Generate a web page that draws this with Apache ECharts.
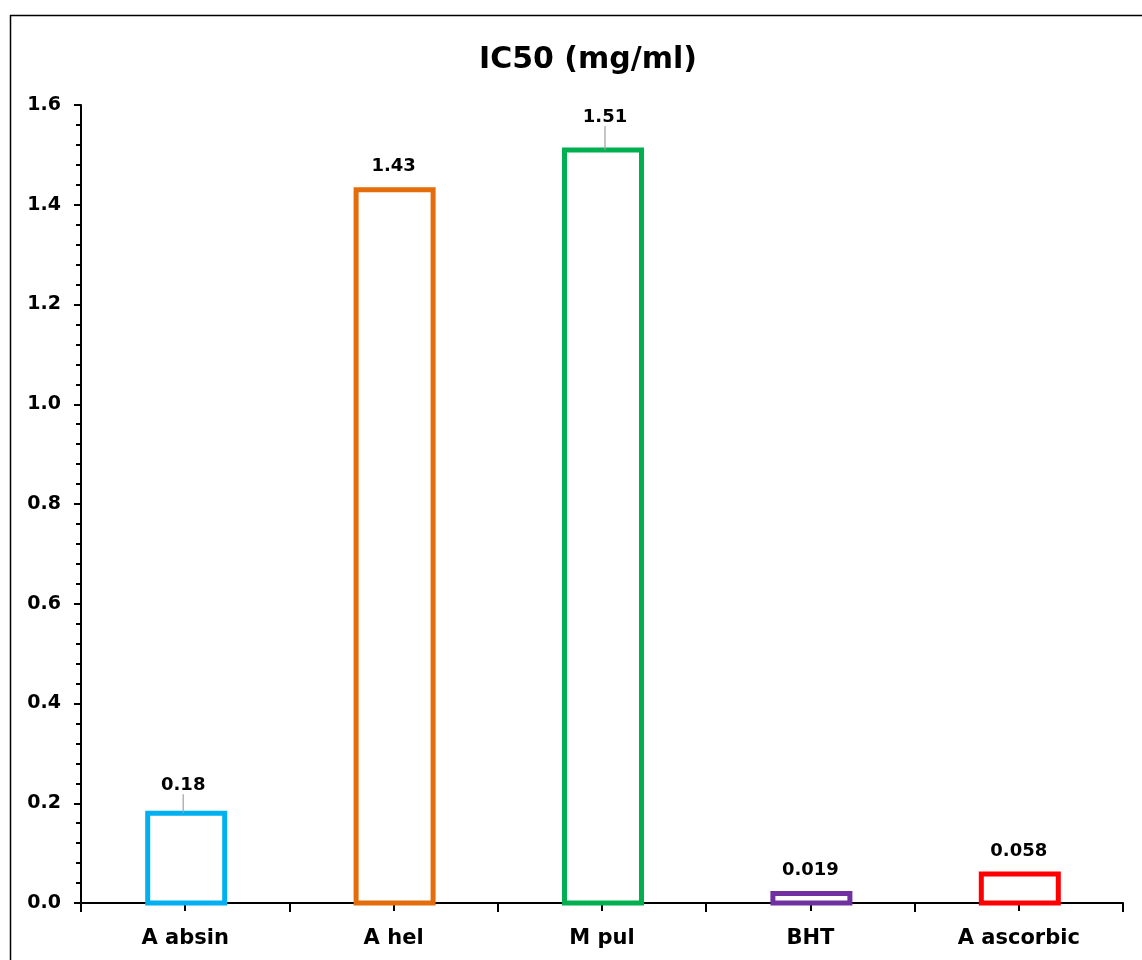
<!DOCTYPE html>
<html>
<head>
<meta charset="utf-8">
<script src="https://cdn.jsdelivr.net/npm/echarts@6/dist/echarts.min.js"></script>
<style>html,body{margin:0;padding:0;background:#fff}#c{width:1142px;height:960px}</style>
</head>
<body>
<div id="c"></div>
<script>
var categories = ['A absin', 'A hel', 'M pul', 'BHT', 'A ascorbic'];
var values = [0.18, 1.43, 1.51, 0.019, 0.058];
var labels = ['0.18', '1.43', '1.51', '0.019', '0.058'];
var colors = ['#00B0F0', '#E46C0A', '#00B050', '#7030A0', '#FF0000'];
var yTicks = [0, 0.2, 0.4, 0.6, 0.8, 1.0, 1.2, 1.4, 1.6];
var leaderLines = [true, false, true, false, false];

var FONT = 'DejaVu Sans';
var BAR_W = 77;
var chart = echarts.init(document.getElementById('c'), null, {renderer: 'canvas'});
var option = {
  backgroundColor: '#fff',
  animation: false,
  graphic: [{
    type: 'rect', shape: {x: 10.5, y: 15.5, width: 1200, height: 1000},
    style: {fill: 'none', stroke: '#000', lineWidth: 1.5}, z: -10, silent: true
  }],
  title: {
    text: 'IC50 (mg/ml)', left: 474, top: 40,
    textStyle: {fontFamily: FONT, fontWeight: 'bold', fontSize: 30, color: '#000'}
  },
  grid: {left: 81, right: 19, top: 105, bottom: 57, containLabel: false},
  xAxis: [{
    type: 'category', data: categories,
    axisLine: {lineStyle: {color: '#000', width: 2}},
    axisTick: {show: true, length: 9, interval: 0, alignWithLabel: false, lineStyle: {color: '#000', width: 2}},
    axisLabel: {fontFamily: FONT, fontWeight: 'bold', fontSize: 21, color: '#000', margin: 25, interval: 0}
  }, {
    type: 'category', data: categories, position: 'bottom',
    axisLine: {show: false},
    axisTick: {show: true, length: 8, interval: 0, alignWithLabel: true, lineStyle: {color: '#000', width: 2}},
    axisLabel: {show: false}
  }],
  yAxis: {
    type: 'value', min: 0, max: 1.6, interval: 0.2,
    axisLine: {show: true, lineStyle: {color: '#000', width: 2}},
    axisTick: {show: true, length: 7, lineStyle: {color: '#000', width: 2}},
    minorTick: {show: true, splitNumber: 5, length: 5, lineStyle: {color: '#000', width: 2}},
    splitLine: {show: false},
    axisLabel: {
      fontFamily: FONT, fontWeight: 'bold', fontSize: 19, color: '#000', margin: 20,
      formatter: function (v) { return v.toFixed(1); }
    }
  },
  series: [{
    type: 'custom', xAxisIndex: 0, z: 2,
    data: values.map(function (v, i) { return [i, v]; }),
    renderItem: function (params, api) {
      var i = api.value(0), v = api.value(1);
      var top = api.coord([i, v]);
      var bot = api.coord([i, 0]);
      return {
        type: 'rect',
        shape: {x: top[0] - BAR_W / 2 + 1, y: top[1], width: BAR_W, height: bot[1] - top[1]},
        style: {fill: '#fff', stroke: colors[params.dataIndex], lineWidth: 5}
      };
    }
  }, {
    type: 'bar', xAxisIndex: 0, barWidth: BAR_W, z: 3,
    data: values.map(function (v, i) {
      return {value: v, labelLine: {show: leaderLines[i]}};
    }),
    itemStyle: {color: 'rgba(0,0,0,0)'},
    label: {
      show: true, position: 'top', distance: 14,
      fontFamily: FONT, fontWeight: 'bold', fontSize: 18, color: '#000',
      formatter: function (p) { return labels[p.dataIndex]; }
    },
    labelLine: {show: true, lineStyle: {color: '#a0a0a0', width: 1.2}},
    labelLayout: function (p) {
      if (p.dataIndex === 0) return {dy: -5, dx: -2};
      if (p.dataIndex === 2) return {dy: -10, dx: 3};
      return {};
    }
  }]
};
chart.setOption(option);
</script>
</body>
</html>
